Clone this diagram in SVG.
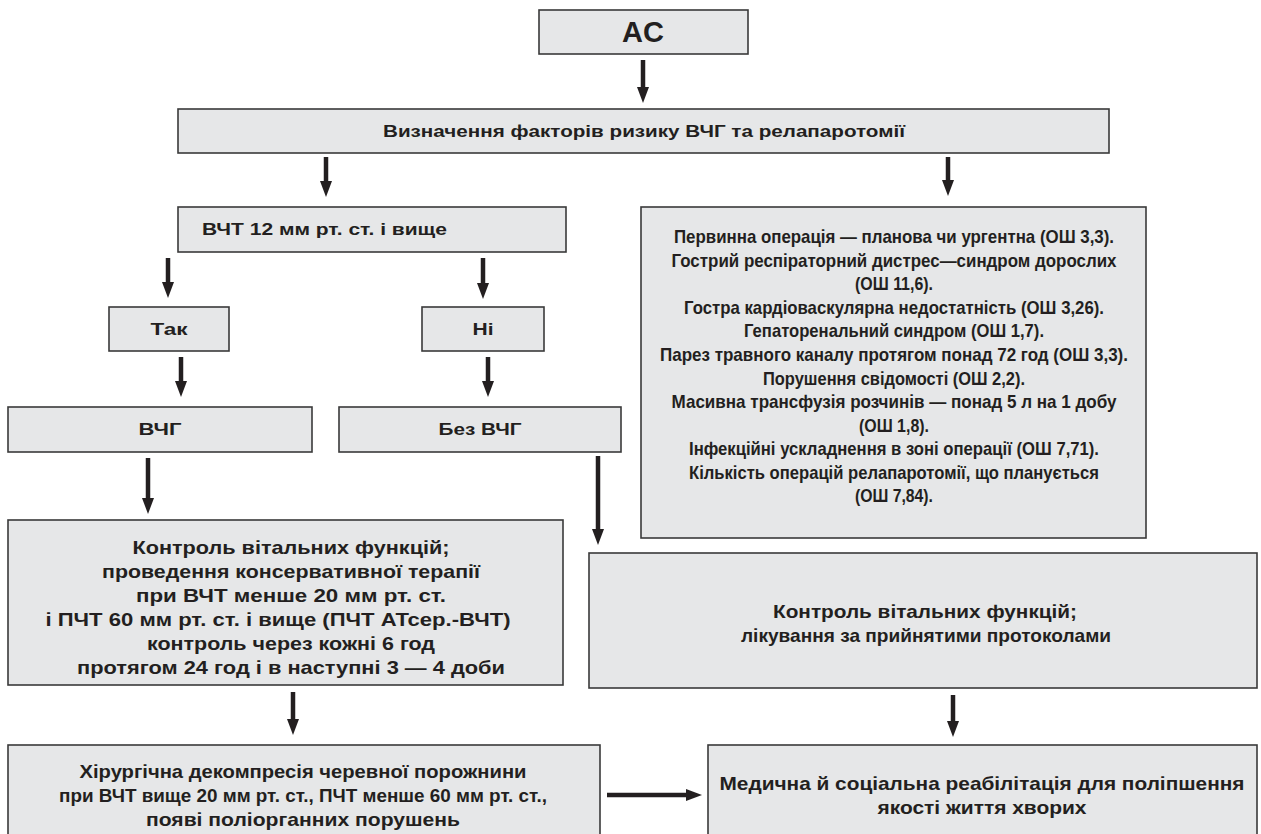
<svg xmlns="http://www.w3.org/2000/svg" width="1261" height="834" viewBox="0 0 1261 834">
<style>
.box{fill:#e6e7e8;stroke:#3a3a3a;stroke-width:1.6}
.t{font-family:"Liberation Sans",Arial,sans-serif;font-weight:bold;font-size:17px;fill:#231f20;text-anchor:middle}
.b{font-size:18.5px}
.r{font-size:19px}
.c{stroke:#231f20;stroke-width:4.5;fill:none;marker-end:url(#ah)}
</style>
<defs>
<marker id="ah" markerUnits="userSpaceOnUse" markerWidth="16" markerHeight="12" refX="0" refY="6" orient="auto">
<path d="M0,0 L16,6 L0,12 z" fill="#231f20"/>
</marker>
</defs>
<rect width="1261" height="834" fill="#ffffff"/>
<g id="connectors">
<line class="c" x1="643" y1="60" x2="643" y2="87"/>
<line class="c" x1="326" y1="157" x2="326" y2="181"/>
<line class="c" x1="948" y1="157" x2="948" y2="180"/>
<line class="c" x1="168" y1="258" x2="168" y2="282"/>
<line class="c" x1="483" y1="258" x2="483" y2="283"/>
<line class="c" x1="181" y1="357" x2="181" y2="381"/>
<line class="c" x1="488" y1="357" x2="488" y2="381"/>
<line class="c" x1="148" y1="458" x2="148" y2="498"/>
<line class="c" x1="598" y1="456" x2="598" y2="529"/>
<line class="c" x1="293" y1="692" x2="293" y2="719"/>
<line class="c" x1="953" y1="695" x2="953" y2="721"/>
<line class="c" x1="607" y1="795" x2="686" y2="795"/>
</g>
<g id="n-ac">
<rect class="box" x="539" y="10" width="209" height="44"/>
<text class="t" x="643" y="42" style="font-size:29px">AC</text>
</g>
<g id="n-risk-def">
<rect class="box" x="178" y="109" width="931" height="44"/>
<text class="t" x="644" y="137" textLength="522" lengthAdjust="spacingAndGlyphs">Визначення факторів ризику ВЧГ та релапаротомії</text>
</g>
<g id="n-vcht">
<rect class="box" x="178" y="207" width="388" height="45"/>
<text class="t" x="202" y="235" style="text-anchor:start" textLength="245" lengthAdjust="spacingAndGlyphs">ВЧТ 12 мм рт. ст. і вище</text>
</g>
<g id="n-factors">
<rect class="box" x="641" y="207" width="505" height="331"/>
<text class="t r" x="894" y="243" textLength="440" lengthAdjust="spacingAndGlyphs">Первинна операція — планова чи ургентна (ОШ 3,3).</text>
<text class="t r" x="894" y="266.5" textLength="445" lengthAdjust="spacingAndGlyphs">Гострий респіраторний дистрес—синдром дорослих</text>
<text class="t r" x="894" y="290" textLength="78" lengthAdjust="spacingAndGlyphs">(ОШ 11,6).</text>
<text class="t r" x="894" y="313.5" textLength="420" lengthAdjust="spacingAndGlyphs">Гостра кардіоваскулярна недостатність (ОШ 3,26).</text>
<text class="t r" x="894" y="337" textLength="300" lengthAdjust="spacingAndGlyphs">Гепаторенальний синдром (ОШ 1,7).</text>
<text class="t r" x="894" y="361" textLength="468" lengthAdjust="spacingAndGlyphs">Парез травного каналу протягом понад 72 год (ОШ 3,3).</text>
<text class="t r" x="894" y="384.5" textLength="262" lengthAdjust="spacingAndGlyphs">Порушення свідомості (ОШ 2,2).</text>
<text class="t r" x="894" y="408" textLength="445" lengthAdjust="spacingAndGlyphs">Масивна трансфузія розчинів — понад 5 л на 1 добу</text>
<text class="t r" x="894" y="431.5" textLength="70" lengthAdjust="spacingAndGlyphs">(ОШ 1,8).</text>
<text class="t r" x="894" y="455" textLength="410" lengthAdjust="spacingAndGlyphs">Інфекційні ускладнення в зоні операції (ОШ 7,71).</text>
<text class="t r" x="894" y="478.5" textLength="410" lengthAdjust="spacingAndGlyphs">Кількість операцій релапаротомії, що планується</text>
<text class="t r" x="894" y="502" textLength="78" lengthAdjust="spacingAndGlyphs">(ОШ 7,84).</text>
</g>
<g id="n-tak">
<rect class="box" x="109" y="307" width="120" height="44"/>
<text class="t" x="169" y="335" textLength="37" lengthAdjust="spacingAndGlyphs">Так</text>
</g>
<g id="n-ni">
<rect class="box" x="422" y="307" width="122" height="44"/>
<text class="t" x="483" y="335" textLength="21" lengthAdjust="spacingAndGlyphs">Ні</text>
</g>
<g id="n-vchg">
<rect class="box" x="8" y="407" width="304" height="45"/>
<text class="t" x="160" y="435" textLength="43" lengthAdjust="spacingAndGlyphs">ВЧГ</text>
</g>
<g id="n-bez">
<rect class="box" x="339" y="407" width="282" height="45"/>
<text class="t" x="480" y="435" textLength="83" lengthAdjust="spacingAndGlyphs">Без ВЧГ</text>
</g>
<g id="n-control-left">
<rect class="box" x="8" y="520" width="555" height="165"/>
<text class="t b" x="291" y="554" textLength="317" lengthAdjust="spacingAndGlyphs">Контроль вітальних функцій;</text>
<text class="t b" x="291" y="578" textLength="378" lengthAdjust="spacingAndGlyphs">проведення консервативної терапії</text>
<text class="t b" x="291" y="602" textLength="310" lengthAdjust="spacingAndGlyphs">при ВЧТ менше 20 мм рт. ст.</text>
<text class="t b" x="278" y="626" textLength="465" lengthAdjust="spacingAndGlyphs">і ПЧТ 60 мм рт. ст. і вище (ПЧТ АТсер.-ВЧТ)</text>
<text class="t b" x="291" y="650" textLength="288" lengthAdjust="spacingAndGlyphs">контроль через кожні 6 год</text>
<text class="t b" x="291" y="674" textLength="428" lengthAdjust="spacingAndGlyphs">протягом 24 год і в наступні 3 — 4 доби</text>
</g>
<g id="n-control-right">
<rect class="box" x="589" y="553" width="668" height="135"/>
<text class="t b" x="925" y="618" textLength="304" lengthAdjust="spacingAndGlyphs">Контроль вітальних функцій;</text>
<text class="t b" x="926" y="642" textLength="370" lengthAdjust="spacingAndGlyphs">лікування за прийнятими протоколами</text>
</g>
<g id="n-surgery">
<rect class="box" x="8" y="745" width="592" height="100"/>
<text class="t b" x="303" y="778" textLength="447" lengthAdjust="spacingAndGlyphs">Хірургічна декомпресія черевної порожнини</text>
<text class="t b" x="303" y="802" textLength="488" lengthAdjust="spacingAndGlyphs">при ВЧТ вище 20 мм рт. ст., ПЧТ менше 60 мм рт. ст.,</text>
<text class="t b" x="303" y="826" textLength="314" lengthAdjust="spacingAndGlyphs">появі поліорганних порушень</text>
</g>
<g id="n-rehab">
<rect class="box" x="708" y="745" width="549" height="100"/>
<text class="t b" x="982" y="790" textLength="525" lengthAdjust="spacingAndGlyphs">Медична й соціальна реабілітація для поліпшення</text>
<text class="t b" x="982" y="814" textLength="209" lengthAdjust="spacingAndGlyphs">якості життя хворих</text>
</g>
</svg>
